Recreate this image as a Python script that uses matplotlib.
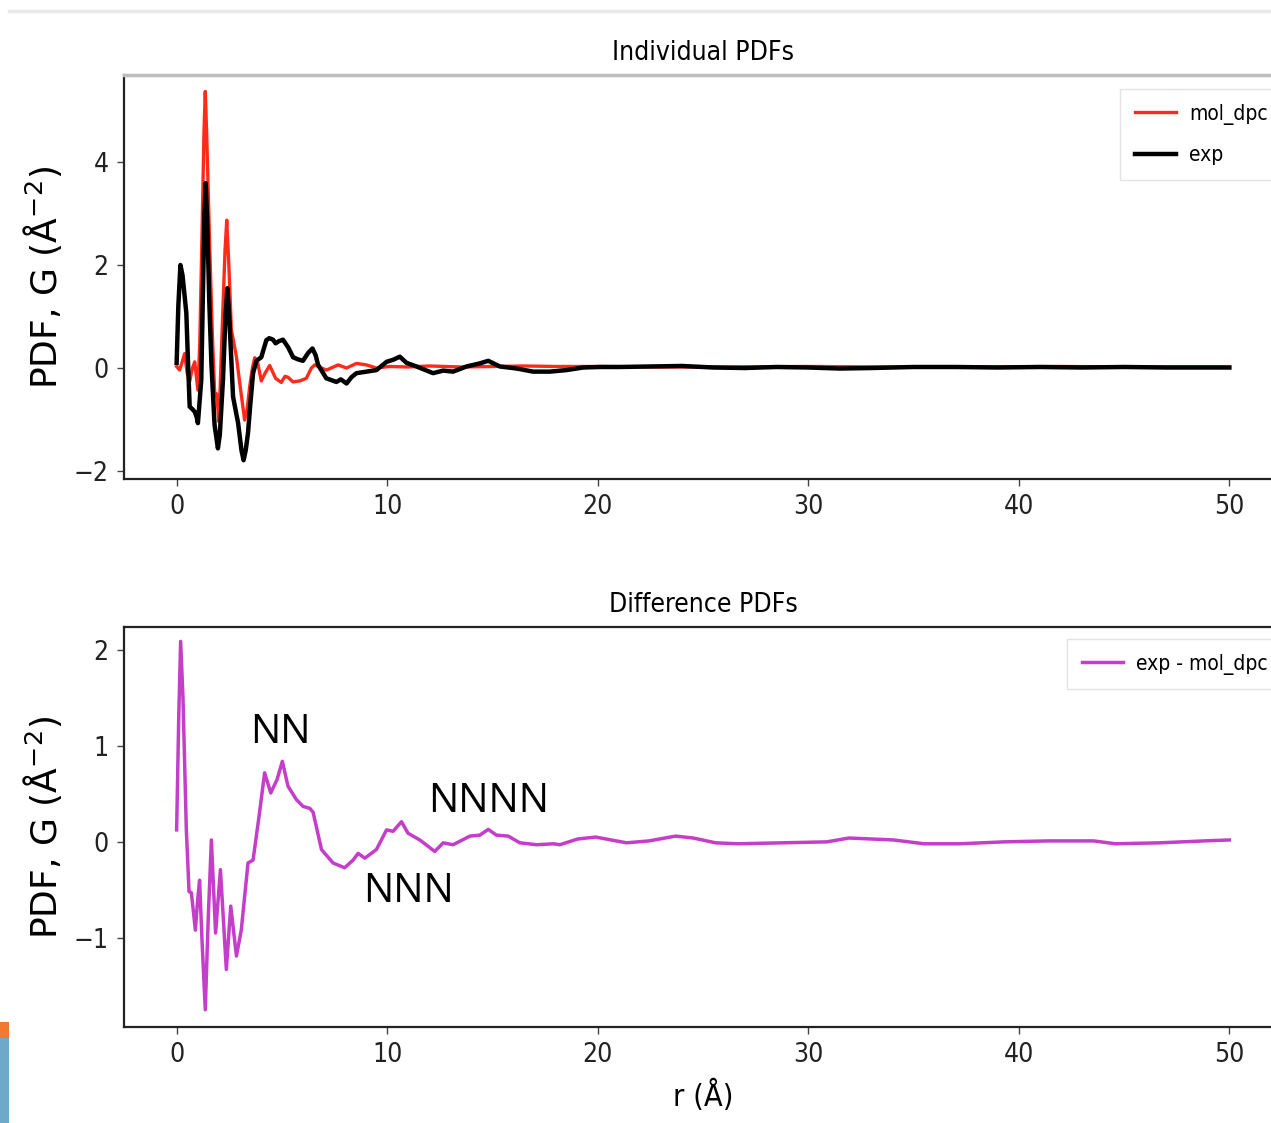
import matplotlib
matplotlib.use('Agg')
import matplotlib.pyplot as plt
from matplotlib import font_manager
from matplotlib.lines import Line2D
from matplotlib.patches import Rectangle

# values
r_exp = [0.0, 0.08, 0.18, 0.28, 0.46, 0.55, 0.62, 0.75, 0.86, 0.95, 1.01, 1.1, 1.17, 1.25, 1.32,
         1.38, 1.45, 1.55, 1.65, 1.8, 1.96, 2.05, 2.2, 2.32, 2.41, 2.5, 2.68, 2.92, 3.08, 3.18,
         3.28, 3.39, 3.5, 3.63, 3.79, 4.02, 4.26, 4.4, 4.58, 4.7, 4.85, 5.05, 5.3, 5.53, 5.75,
         6.0, 6.24, 6.45, 6.6, 6.72, 7.11, 7.59, 7.8, 8.07, 8.3, 8.54, 9.02, 9.49, 9.97, 10.28,
         10.6, 10.92, 11.39, 12.18, 12.66, 13.13, 13.77, 14.4, 14.8, 15.35, 16.15, 16.93, 17.73,
         18.52, 19.31, 20.1, 21.0, 22.5, 24.0, 25.5, 27.0, 28.5, 30.0, 31.5, 33.0, 35.0, 37.0,
         39.0, 41.0, 43.0, 45.0, 47.0, 50.0]
g_exp = [0.1, 1.2, 2.0, 1.8, 1.07, 0.0, -0.75, -0.8, -0.85, -0.95, -1.07, -0.6, -0.23, 1.5, 3.0,
         3.59, 2.9, 1.3, 0.1, -1.1, -1.56, -1.3, -0.23, 1.0, 1.55, 1.0, -0.56, -1.07, -1.6, -1.79,
         -1.6, -1.26, -0.7, -0.1, 0.14, 0.21, 0.54, 0.58, 0.55, 0.48, 0.52, 0.55, 0.4, 0.21, 0.17,
         0.14, 0.29, 0.38, 0.25, 0.06, -0.2, -0.27, -0.22, -0.3, -0.18, -0.1, -0.07, -0.04, 0.12, 0.16,
         0.22, 0.1, 0.03, -0.1, -0.05, -0.07, 0.03, 0.09, 0.14, 0.03, -0.01, -0.07, -0.07,
         -0.04, 0.01, 0.02, 0.02, 0.03, 0.04, 0.01, 0.0, 0.02, 0.01, -0.01, 0.0, 0.02, 0.02,
         0.01, 0.02, 0.01, 0.02, 0.01, 0.01]

r_mol = [0.0, 0.14, 0.25, 0.38, 0.5, 0.62, 0.75, 0.86, 1.01, 1.1, 1.2, 1.3, 1.36, 1.43, 1.57,
         1.7, 1.81, 1.9, 2.01, 2.15, 2.3, 2.38, 2.48, 2.6, 2.84, 3.0, 3.23, 3.35, 3.47, 3.6,
         3.71, 3.85, 4.02, 4.2, 4.42, 4.7, 4.97, 5.15, 5.29, 5.53, 5.85, 6.16, 6.4, 6.56, 7.11,
         7.67, 8.07, 8.54, 9.02, 9.49, 10.1, 11.0, 12.0, 13.5, 15.0, 16.5, 18.0, 20.0, 23.0,
         26.0, 30.0, 34.0, 38.0, 42.0, 46.0, 50.0]
g_mol = [0.03, -0.04, 0.1, 0.28, -0.1, -0.26, 0.0, 0.12, -0.43, 0.5, 2.5, 4.6, 5.37, 4.5, 2.36,
         0.6, -0.52, -0.5, -1.04, 0.6, 2.3, 2.87, 2.0, 0.74, 0.22, -0.3, -1.01, -0.8, -0.36, 0.0,
         0.2, 0.1, -0.25, -0.1, 0.05, -0.2, -0.28, -0.16, -0.18, -0.27, -0.25, -0.2, 0.0, 0.06, -0.04,
         0.06, 0.0, 0.09, 0.06, 0.0, 0.03, 0.02, 0.04, 0.02, 0.03, 0.04, 0.03, 0.03, 0.02,
         0.02, 0.03, 0.02, 0.02, 0.03, 0.02, 0.02]

r_diff = [0.0, 0.1, 0.19, 0.3, 0.46, 0.59, 0.7, 0.89, 1.0, 1.09, 1.2, 1.36, 1.5, 1.65, 1.85,
          2.08, 2.36, 2.57, 2.84, 3.07, 3.39, 3.63, 3.91, 4.18, 4.47, 4.77, 5.02, 5.29, 5.69,
          6.0, 6.32, 6.48, 6.88, 7.43, 7.98, 8.38, 8.62, 8.94, 9.49, 9.97, 10.28, 10.68, 10.99,
          11.55, 12.26, 12.66, 13.13, 13.93, 14.4, 14.8, 15.19, 15.75, 16.3, 17.1, 17.9, 18.2,
          19.05, 19.9, 21.37, 22.43, 23.7, 24.54, 25.6, 26.65, 28.77, 30.88, 31.93, 34.05, 35.5,
          37.2, 39.3, 41.4, 43.55, 44.6, 46.7, 48.8, 50.0]
g_diff = [0.125, 1.3, 2.09, 1.51, 0.13, -0.52, -0.53, -0.92, -0.6, -0.4, -1.0, -1.75, -0.8, 0.02, -0.95,
          -0.29, -1.33, -0.67, -1.19, -0.92, -0.22, -0.19, 0.26, 0.72, 0.51, 0.65, 0.84, 0.58, 0.44,
          0.37, 0.35, 0.31, -0.08, -0.22, -0.27, -0.19, -0.12, -0.17, -0.08, 0.125, 0.11, 0.21, 0.09,
          0.02, -0.1, -0.01, -0.03, 0.06, 0.07, 0.13, 0.07, 0.06, -0.01, -0.03, -0.02, -0.03,
          0.03, 0.05, -0.01, 0.01, 0.06, 0.04, -0.01, -0.02, -0.01, 0.0, 0.04, 0.02, -0.02,
          -0.02, 0.0, 0.01, 0.01, -0.02, -0.01, 0.01, 0.02]

# annotation labels and where they sit (r, G)
peak_labels = ['NN', 'NNN', 'NNNN']
peak_r = [4.92, 10.99, 14.8]
peak_g = [1.03, -0.625, 0.31]

# narrow looking text: condensed DejaVu
fp_tick = font_manager.FontProperties(family='DejaVu Sans', stretch='condensed', size=19)
fp_title = font_manager.FontProperties(family='DejaVu Sans', stretch='condensed', size=19)
fp_leg = font_manager.FontProperties(family='DejaVu Sans', stretch='condensed', size=15)
fp_xlab = font_manager.FontProperties(family='DejaVu Sans', stretch='condensed', size=22)

W, H = 1271, 1123

fig = plt.figure(figsize=(W / 100, H / 100), dpi=100)

ax1 = fig.add_axes([124 / W, 1 - 479 / H, (1282 - 124) / W, (479 - 75) / H])
ax2 = fig.add_axes([124 / W, 1 - 1027 / H, (1282 - 124) / W, (1027 - 627) / H])

ax1.plot(r_mol, g_mol, color='#ff2a1a', lw=2.4, label='mol_dpc')
ax1.plot(r_exp, g_exp, color='black', lw=3.2, label='exp')
ax2.plot(r_diff, g_diff, color='#c43ec9', lw=2.5, label='exp - mol_dpc')

ax1.set_xlim(-2.5, 52.5)
ax1.set_ylim(-2.155, 5.69)
ax2.set_xlim(-2.5, 52.5)
ax2.set_ylim(-1.93, 2.24)
ax1.set_yticks([-2, 0, 2, 4])
ax2.set_yticks([-1, 0, 1, 2])

for ax in (ax1, ax2):
    ax.set_xticks([0, 10, 20, 30, 40, 50])
    ax.tick_params(length=5, width=1, color='#444444', pad=6)
    for lab in ax.get_xticklabels() + ax.get_yticklabels():
        lab.set_fontproperties(fp_tick)
        lab.set_color('#222222')
    for s in ax.spines.values():
        s.set_linewidth(1.6)
        s.set_color('#222222')
    ax.set_ylabel('PDF, G ($\\mathrm{\\AA}^{-2}$)', fontsize=26, family='DejaVu Sans')
    ax.yaxis.set_label_coords(-60 / (1282 - 124), 0.5)

ax1.spines['top'].set_color('#bdbdbd')
ax1.spines['top'].set_linewidth(2.5)

ax1.set_title('Individual PDFs', fontproperties=fp_title, pad=11)
ax2.set_title('Difference PDFs', fontproperties=fp_title, pad=11)
ax2.set_xlabel('r (Å)', fontproperties=fp_xlab, labelpad=8)

leg1 = ax1.legend(loc='upper right', bbox_to_anchor=(1.0, 1 - 14 / 404), prop=fp_leg,
                  handlelength=2.0, handletextpad=0.6, labelspacing=1.0, borderaxespad=0.0,
                  borderpad=0.7, fancybox=False)
leg2 = ax2.legend(loc='upper right', bbox_to_anchor=(1.0, 1 - 12 / 400), prop=fp_leg,
                  handlelength=2.0, handletextpad=0.6, borderaxespad=0.0, borderpad=0.7,
                  fancybox=False)
for leg in (leg1, leg2):
    leg.get_frame().set_edgecolor('#dddddd')

for t, x, y in zip(peak_labels, peak_r, peak_g):
    ax2.text(x, y, t, fontsize=29, family='Open Sans', ha='center', va='baseline', color='black')

# screenshot leftovers: grey rule at the top and coloured strip at lower left
fig.add_artist(Line2D([9 / W, 1], [1 - 11 / H, 1 - 11 / H], transform=fig.transFigure,
                      color='#e8e8e8', lw=2.5))
fig.add_artist(Rectangle((0, 1 - 1038 / H), 9 / W, 16 / H, transform=fig.transFigure,
                         color='#f07a30', lw=0))
fig.add_artist(Rectangle((0, 0), 9 / W, 1 - 1038 / H, transform=fig.transFigure,
                         color='#6fa9c9', lw=0))

fig.savefig('out.png', dpi=100)
